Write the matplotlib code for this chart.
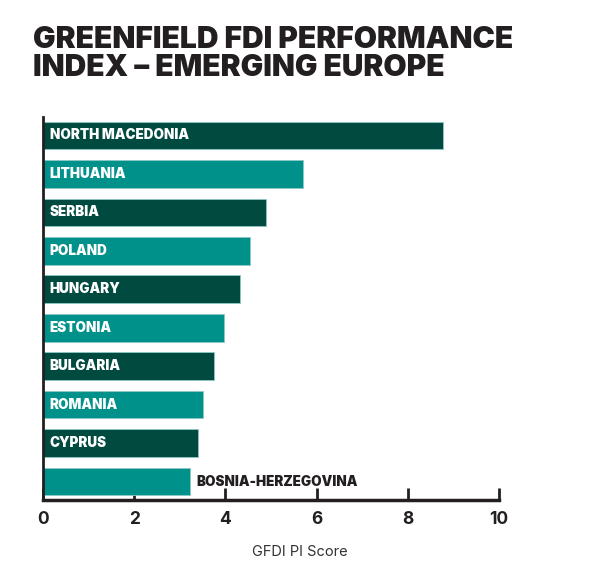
import matplotlib
matplotlib.use("Agg")
import matplotlib.pyplot as plt
from matplotlib import font_manager as fm

countries = ["NORTH MACEDONIA", "LITHUANIA", "SERBIA", "POLAND", "HUNGARY",
             "ESTONIA", "BULGARIA", "ROMANIA", "CYPRUS", "BOSNIA-HERZEGOVINA"]
scores = [8.78, 5.71, 4.90, 4.53, 4.33, 3.96, 3.76, 3.51, 3.39, 3.22]
xticks = [0, 2, 4, 6, 8, 10]
title = "GREENFIELD FDI PERFORMANCE\nINDEX – EMERGING EUROPE"
xlabel = "GFDI PI Score"

dark = "#004a40"
teal = "#00918a"


def font_file(name, weight):
    cands = [f for f in fm.fontManager.ttflist if f.name == name and f.style == "normal"]
    if not cands:
        return None
    best = min(cands, key=lambda f: abs(int(f.weight) - weight) if str(f.weight).isdigit() else 999)
    return best.fname


def fp(name, weight, size):
    path = font_file(name, weight)
    if path:
        return fm.FontProperties(fname=path, size=size)
    return fm.FontProperties(family="DejaVu Sans", weight="bold", size=size)


title_fp = fp("Inter", 900, 21.6)
label_fp = fp("Inter", 900, 9.7)
tick_fp = fp("Inter", 700, 12.5)
xl_fp = fp("Inter", 400, 10.5)

fig = plt.figure(figsize=(6.0, 5.7), dpi=100)
ax = fig.add_axes([43/600, 70/570, 456/600, 383/570])

ypos = list(range(len(countries)))
colors = [dark if i % 2 == 0 else teal for i in ypos]
ax.barh(ypos, scores, height=0.72, color=colors, edgecolor="#8fc9c3", linewidth=0.6, zorder=2)

for i, (c, s) in enumerate(zip(countries, scores)):
    if s > 3.3:
        ax.text(0.15, i, c, color="white", fontproperties=label_fp,
                va="center", ha="left", zorder=3)
    else:
        ax.text(s + 0.15, i, c, color="#231f20", fontproperties=label_fp,
                va="center", ha="left", zorder=3)

ax.set_xlim(0, 10)
ax.set_ylim(9.48, -0.48)
ax.set_yticks([])
ax.set_xticks(xticks)
ax.set_xticklabels([str(t) for t in xticks], color="#231f20")
for lab in ax.get_xticklabels():
    lab.set_fontproperties(tick_fp)
ax.tick_params(axis="x", direction="in", length=9, width=2, color="#231f20", pad=8)
for side in ["top", "right"]:
    ax.spines[side].set_visible(False)
ax.spines["left"].set_linewidth(2)
ax.spines["bottom"].set_linewidth(2.5)
ax.spines["left"].set_color("#231f20")
ax.spines["bottom"].set_color("#231f20")

fig.text(300/600, 1 - 552/570, xlabel, fontproperties=xl_fp, color="#333333",
         ha="center", va="center")

fig.text(33/600, 1 - 26/570, title, fontproperties=title_fp,
         color="#231f20", va="top", ha="left", linespacing=0.98)

fig.savefig("out.png", dpi=100, facecolor="white")
